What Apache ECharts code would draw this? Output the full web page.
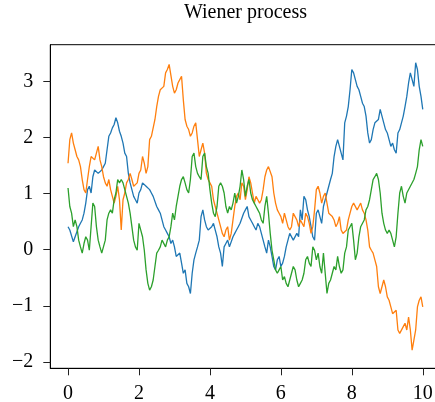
<!DOCTYPE html>
<html><head><meta charset="utf-8">
<script src="https://cdn.jsdelivr.net/npm/echarts@6/dist/echarts.min.js"></script>
<style>html,body{margin:0;padding:0;background:#fff}#c{width:435px;height:402px}</style>
</head><body><div id="c"></div>
<script>
const tStart = 0, tStep = 0.05;
const xTicks = [0, 2, 4, 6, 8, 10];
const yTicks = [-2, -1, 0, 1, 2, 3];
const blue = [0.41,0.35,0.32,0.14,0.23,0.32,0.41,0.47,0.53,0.65,0.83,1.07,1.13,1.01,1.30,1.42,1.45,1.36,1.36,1.42,
1.48,1.54,1.78,2.02,2.08,2.17,2.23,2.35,2.26,2.11,2.02,1.90,1.72,1.66,1.36,1.19,1.07,0.95,0.89,0.83,
1.01,1.07,1.19,1.22,1.13,1.10,1.07,1.01,0.95,0.95,0.77,0.71,0.65,0.65,0.41,0.35,0.29,0.23,0.11,0.17,
0.05,-0.12,-0.15,-0.06,-0.24,-0.42,-0.36,-0.60,-0.66,-0.78,-0.42,-0.18,-0.06,0.05,0.17,0.59,0.71,0.53,0.41,0.35,
0.35,0.41,0.47,0.35,0.23,0.05,-0.06,-0.30,0.05,0.11,0.17,0.05,0.05,0.23,0.29,0.35,0.41,0.47,0.47,0.65,
0.71,0.77,0.59,0.53,0.47,0.41,0.35,0.47,0.41,0.29,0.17,0.05,-0.06,0.17,0.05,-0.12,-0.30,-0.36,-0.18,-0.12,
-0.30,-0.24,-0.12,0.05,0.17,0.29,0.29,0.17,0.14,0.29,0.23,0.71,0.53,0.95,0.89,0.71,0.59,0.41,0.23,0.17,
0.65,0.71,0.59,0.47,0.77,0.89,1.01,1.13,1.25,1.36,1.66,1.84,1.96,1.84,1.72,1.60,2.26,2.38,2.55,2.85,
3.21,3.15,3.03,2.91,2.85,2.73,2.61,2.55,2.38,2.08,1.90,1.96,2.14,2.26,2.26,2.32,2.50,2.38,2.26,2.14,
2.08,1.96,1.84,1.90,1.78,1.72,2.08,2.14,2.26,2.38,2.55,2.73,2.97,3.15,3.03,2.91,3.33,3.21,2.91,2.73,
2.50];
const orange = [1.54,1.96,2.08,1.90,1.78,1.66,1.60,1.48,1.25,1.07,1.01,1.25,1.48,1.66,1.66,1.60,1.72,1.84,1.60,1.48,
1.30,1.19,1.13,1.25,1.07,0.95,0.83,0.95,1.13,0.89,0.35,0.89,1.01,1.19,1.25,1.36,1.25,1.13,1.13,1.19,
1.36,1.42,1.66,1.54,1.36,1.48,1.96,2.02,2.02,2.32,2.55,2.73,2.85,2.85,2.91,3.15,3.21,3.30,3.27,2.91,
2.79,2.85,2.97,3.03,3.09,2.67,2.32,2.20,2.14,2.02,2.08,2.20,2.26,1.96,1.66,1.78,1.90,1.72,1.36,1.25,
1.19,1.13,0.89,0.77,0.65,0.53,0.41,0.29,0.23,0.35,0.41,0.17,0.29,0.53,0.77,0.95,1.01,0.89,1.19,1.13,
0.89,1.07,1.30,1.19,1.01,0.83,0.95,0.89,0.83,0.89,1.07,1.30,1.42,1.48,1.48,1.30,1.01,0.83,0.71,0.65,
0.59,0.47,0.65,0.53,0.41,0.35,0.41,0.65,0.59,0.53,0.41,0.53,0.53,0.41,0.65,0.59,0.47,0.29,0.41,0.71,
1.07,1.13,1.01,0.83,0.95,1.01,0.83,0.65,0.65,0.59,0.53,0.41,0.47,0.59,0.35,0.29,0.29,0.35,0.53,0.65,
0.77,0.83,0.83,0.71,0.77,0.83,0.71,0.65,0.53,0.35,0.05,-0.01,-0.06,-0.18,-0.30,-0.66,-0.78,-0.78,-0.54,-0.66,
-0.84,-0.90,-1.02,-1.14,-1.14,-1.08,-1.43,-1.49,-1.49,-1.37,-1.31,-1.43,-1.20,-1.43,-1.79,-1.61,-1.43,-1.02,-0.90,-0.84,
-1.02];
const green = [1.10,0.77,0.65,0.41,0.53,0.41,0.17,0.05,-0.06,0.11,0.23,0.17,-0.01,0.41,0.83,0.77,0.41,0.17,0.05,-0.06,
-0.06,0.17,0.53,0.65,0.71,0.65,0.89,1.01,1.25,1.19,1.25,1.19,1.07,0.95,0.83,0.65,0.41,0.17,0.05,-0.01,
0.47,0.35,0.23,-0.01,-0.36,-0.60,-0.72,-0.66,-0.54,-0.30,-0.06,-0.01,0.05,0.17,0.17,0.05,0.17,0.23,0.41,0.65,
0.53,0.77,0.95,1.13,1.25,1.30,1.19,1.07,1.01,1.25,1.66,1.72,1.48,1.36,1.30,1.25,1.66,1.72,1.48,1.36,
1.07,0.83,0.65,0.59,0.77,1.13,1.19,1.13,1.01,0.77,0.65,0.77,0.71,0.83,1.01,0.83,0.95,1.13,1.42,1.25,
0.95,1.13,1.25,1.01,0.89,0.83,0.77,0.71,0.65,0.53,0.47,0.77,0.95,0.65,0.29,-0.01,-0.18,-0.36,-0.42,-0.36,
-0.30,-0.54,-0.48,-0.60,-0.66,-0.54,-0.42,-0.30,-0.36,-0.54,-0.66,-0.60,-0.54,-0.42,-0.18,-0.12,-0.24,-0.30,0.05,-0.01,
-0.18,-0.06,-0.30,-0.42,-0.06,-0.42,-0.78,-0.60,-0.54,-0.42,-0.30,-0.36,-0.12,-0.30,-0.42,-0.36,-0.06,0.05,0.35,0.41,
0.47,0.17,-0.18,-0.06,0.23,0.41,0.41,0.53,0.71,0.77,0.89,1.07,1.25,1.30,1.36,1.25,1.01,0.65,0.47,0.35,
0.29,0.35,0.29,0.17,0.05,0.23,0.65,1.01,1.13,0.95,0.83,1.01,1.01,1.13,1.13,1.25,1.36,1.48,1.78,1.96,
1.84];

function pairs(arr){ return arr.map((v,i)=>[+(tStart+i*tStep).toFixed(2), v]); }
const FONT = '"Liberation Serif", "DejaVu Serif", serif';
const fmt = v => String(v).replace('-', '\u2212');
const chart = echarts.init(document.getElementById('c'), null, {renderer:'canvas'});
const mkLine = (name, arr, color) => ({
  name, type:'line', data: pairs(arr), showSymbol:false, symbol:'none',
  lineStyle:{color, width:1.3}, itemStyle:{color}, animation:false, z:2
});
chart.setOption({
  animation:false,
  backgroundColor:'#fff',
  title:{text:'Wiener process', left:240.5, textAlign:'center', top:-2,
    textStyle:{fontFamily:FONT, fontSize:20, fontWeight:'normal', color:'#000'}},
  grid:{left:50.3, top:44.7, width:390.2, height:323.6, show:true, borderColor:'#000', borderWidth:1,
    containLabel:false, outerBoundsMode:'none'},
  xAxis:{type:'value', min:-0.5, max:10.5,
    axisLine:{show:true, onZero:false, lineStyle:{color:'#000', width:1}},
    axisTick:{show:true, length:7, inside:false, customValues:xTicks, lineStyle:{color:'#222'}},
    axisLabel:{customValues:xTicks, formatter:fmt, margin:15, fontFamily:FONT, fontSize:20, color:'#000'},
    splitLine:{show:false}},
  yAxis:{type:'value', min:-2.113, max:3.652,
    axisLine:{show:true, onZero:false, lineStyle:{color:'#000', width:1}},
    axisTick:{show:true, length:7, inside:false, customValues:yTicks, lineStyle:{color:'#222'}},
    axisLabel:{customValues:yTicks, formatter:fmt, margin:17, fontFamily:FONT, fontSize:20, color:'#000'},
    splitLine:{show:false}},
  series:[mkLine('W1', blue, '#1f77b4'), mkLine('W2', orange, '#ff7f0e'), mkLine('W3', green, '#2ca02c')]
});
</script></body></html>
